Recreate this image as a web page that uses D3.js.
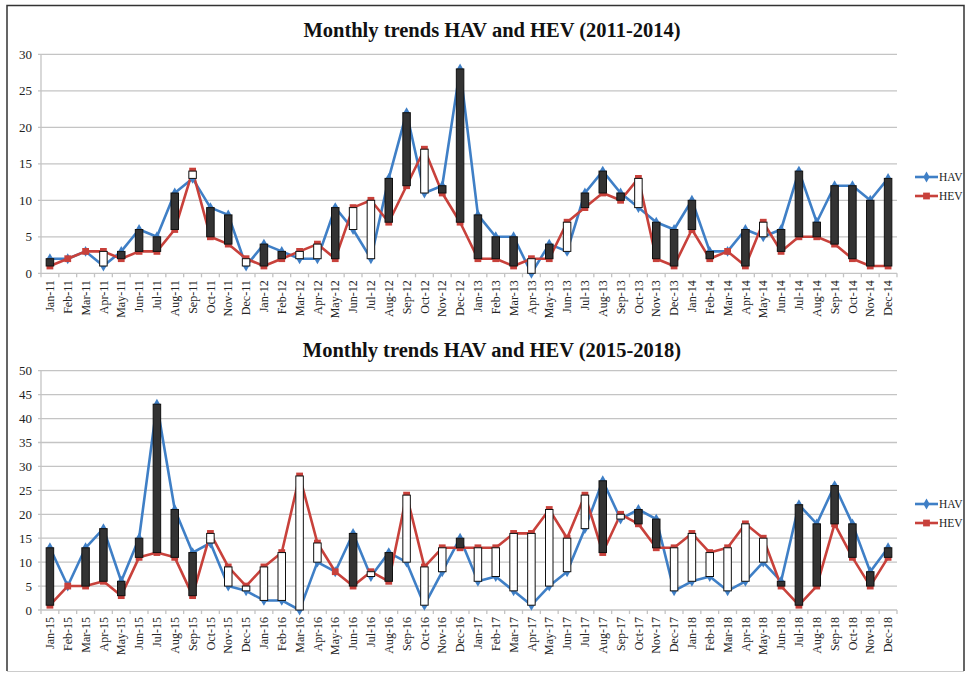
<!DOCTYPE html>
<html>
<head>
<meta charset="utf-8">
<script src="https://cdn.jsdelivr.net/npm/d3@7"></script>
<style>
  body { margin: 0; background: #fff; }
  svg { display: block; font-family: "Liberation Serif", "Times New Roman", serif; }
</style>
</head>
<body>
<svg id="chart" width="965" height="673"></svg>
<script>
// month / year labels
const monthNames = ['Jan', 'Feb', 'Mar', 'Apr', 'May', 'Jun', 'Jul', 'Aug', 'Sep', 'Oct', 'Nov', 'Dec'];
const years1 = ['11', '12', '13', '14'];
const years2 = ['15', '16', '17', '18'];

// 2011-2014
const hav1 = [2, 2, 3, 1, 3, 6, 5, 11, 13, 9, 8, 1,
              4, 3, 2, 2, 9, 6, 2, 13, 22, 11, 12, 28,
              8, 5, 5, 0, 4, 3, 11, 14, 11, 9, 7, 6,
              10, 3, 3, 6, 5, 6, 14, 7, 12, 12, 10, 13];
const hev1 = [1, 2, 3, 3, 2, 3, 3, 6, 14, 5, 4, 2,
              1, 2, 3, 4, 2, 9, 10, 7, 12, 17, 11, 7,
              2, 2, 1, 2, 2, 7, 9, 11, 10, 13, 2, 1,
              6, 2, 3, 1, 7, 3, 5, 5, 4, 2, 1, 1];

// 2015-2018
const hav2 = [13, 5, 13, 17, 6, 15, 43, 21, 12, 14, 5, 4,
              2, 2, 0, 10, 8, 16, 7, 12, 10, 1, 8, 15,
              6, 7, 4, 1, 5, 8, 17, 27, 19, 21, 19, 4,
              6, 7, 4, 6, 10, 6, 22, 18, 26, 18, 8, 13];
const hev2 = [1, 5, 5, 6, 3, 11, 12, 11, 3, 16, 9, 5,
              9, 12, 28, 14, 8, 5, 8, 6, 24, 9, 13, 13,
              13, 13, 16, 16, 21, 15, 24, 12, 20, 18, 13, 13,
              16, 12, 13, 18, 15, 5, 1, 5, 18, 11, 5, 11];

const yTicks1 = [0, 5, 10, 15, 20, 25, 30];
const yTicks2 = [0, 5, 10, 15, 20, 25, 30, 35, 40, 45, 50];

const colors = { hav: '#3f7fc6', hev: '#c8413b', grid: '#c4c4c4', up: '#333333' };

const svg = d3.select('#chart');

function makeLabels(years) {
    const out = [];
    years.forEach(y => monthNames.forEach(m => out.push(m + '-' + y)));
    return out;
}

function drawChart(opts) {
    const labels = makeLabels(opts.years);
    const rows = labels.map((d, i) => ({ label: d, hav: opts.hav[i], hev: opts.hev[i] }));

    const x = d3.scaleBand().domain(labels).range([41, 897]);
    const y = d3.scaleLinear().domain([0, opts.yMax]).range([opts.bottom, opts.top]);
    const cx = d => x(d) + x.bandwidth() / 2;

    const g = svg.append('g');

    g.append('text')
        .attr('x', 492)
        .attr('y', opts.titleY)
        .attr('text-anchor', 'middle')
        .attr('font-size', '20.5px')
        .attr('font-weight', 'bold')
        .attr('fill', '#111')
        .text(opts.title);

    // gridlines
    g.selectAll('.grid')
        .data(opts.yTicks)
        .enter()
        .append('line')
        .attr('x1', 38)
        .attr('x2', 897)
        .attr('y1', d => y(d))
        .attr('y2', d => y(d))
        .attr('stroke', colors.grid)
        .attr('stroke-width', 1.3);

    g.append('line')
        .attr('x1', 41).attr('x2', 41)
        .attr('y1', y(0)).attr('y2', y(opts.yMax))
        .attr('stroke', colors.grid)
        .attr('stroke-width', 1.3);

    g.selectAll('.ylab')
        .data(opts.yTicks)
        .enter()
        .append('text')
        .attr('x', 32)
        .attr('y', d => y(d))
        .attr('dy', '0.35em')
        .attr('text-anchor', 'end')
        .attr('font-size', '13px')
        .attr('fill', '#222')
        .text(d => d);

    // category boundary ticks
    const bounds = labels.map(d => x(d)).concat([x.range()[1]]);
    g.selectAll('.xtick')
        .data(bounds)
        .enter()
        .append('line')
        .attr('x1', d => d).attr('x2', d => d)
        .attr('y1', y(0)).attr('y2', y(0) + 4)
        .attr('stroke', colors.grid)
        .attr('stroke-width', 1.3);

    g.selectAll('.xlab')
        .data(labels)
        .enter()
        .append('text')
        .attr('transform', d => `translate(${cx(d)},${y(0) + 7}) rotate(-90)`)
        .attr('dy', '0.35em')
        .attr('text-anchor', 'end')
        .attr('font-size', '12px')
        .attr('fill', '#222')
        .text(d => d);

    // lines
    const series = [
        { key: 'hav', color: colors.hav, symbol: d3.symbolDiamond, size: 34 },
        { key: 'hev', color: colors.hev, symbol: d3.symbolSquare, size: 46 }
    ];

    series.forEach(s => {
        const line = d3.line().x(d => cx(d.label)).y(d => y(d[s.key]));
        g.append('path')
            .datum(rows)
            .attr('d', line)
            .attr('fill', 'none')
            .attr('stroke', s.color)
            .attr('stroke-width', 2.6)
            .attr('stroke-linejoin', 'round');
    });

    series.forEach(s => {
        g.selectAll('.m-' + s.key)
            .data(rows)
            .enter()
            .append('path')
            .attr('d', d3.symbol().type(s.symbol).size(s.size))
            .attr('transform', d => `translate(${cx(d.label)},${y(d[s.key])})`)
            .attr('fill', s.color);
    });

    // up / down bars
    const barW = 7.5;
    g.selectAll('.bar')
        .data(rows.filter(d => d.hav !== d.hev))
        .enter()
        .append('rect')
        .attr('x', d => cx(d.label) - barW / 2)
        .attr('width', barW)
        .attr('y', d => y(Math.max(d.hav, d.hev)))
        .attr('height', d => Math.abs(y(d.hav) - y(d.hev)))
        .attr('fill', d => d.hav > d.hev ? colors.up : '#fff')
        .attr('stroke', '#111')
        .attr('stroke-width', 1);

    // legend
    const legend = g.append('g');
    const items = legend.selectAll('.legend-item')
        .data(series)
        .enter()
        .append('g')
        .attr('transform', (d, i) => `translate(915,${opts.legendY + i * 19})`);

    items.append('line')
        .attr('x1', 0).attr('x2', 23)
        .attr('stroke', d => d.color)
        .attr('stroke-width', 2.6);

    items.append('path')
        .attr('d', d => d3.symbol().type(d.symbol).size(d.size)())
        .attr('transform', 'translate(11.5,0)')
        .attr('fill', d => d.color);

    items.append('text')
        .attr('x', 24)
        .attr('dy', '0.35em')
        .attr('font-size', '11.5px')
        .attr('fill', '#222')
        .text(d => d.key.toUpperCase());
}

drawChart({
    title: 'Monthly trends HAV and HEV (2011-2014)',
    titleY: 37,
    years: years1, hav: hav1, hev: hev1,
    yMax: 30, yTicks: yTicks1,
    top: 54.3, bottom: 273.3,
    legendY: 177
});

drawChart({
    title: 'Monthly trends HAV and HEV (2015-2018)',
    titleY: 357,
    years: years2, hav: hav2, hev: hev2,
    yMax: 50, yTicks: yTicks2,
    top: 370.7, bottom: 610,
    legendY: 504
});

// outer frame
svg.append('path')
    .attr('d', 'M7,671 V5.5 H964 V671')
    .attr('fill', 'none')
    .attr('stroke', '#333')
    .attr('stroke-width', 1.5);
svg.append('line')
    .attr('x1', 7).attr('x2', 964)
    .attr('y1', 671.5).attr('y2', 671.5)
    .attr('stroke', '#ccc')
    .attr('stroke-width', 1);
</script>
</body>
</html>
